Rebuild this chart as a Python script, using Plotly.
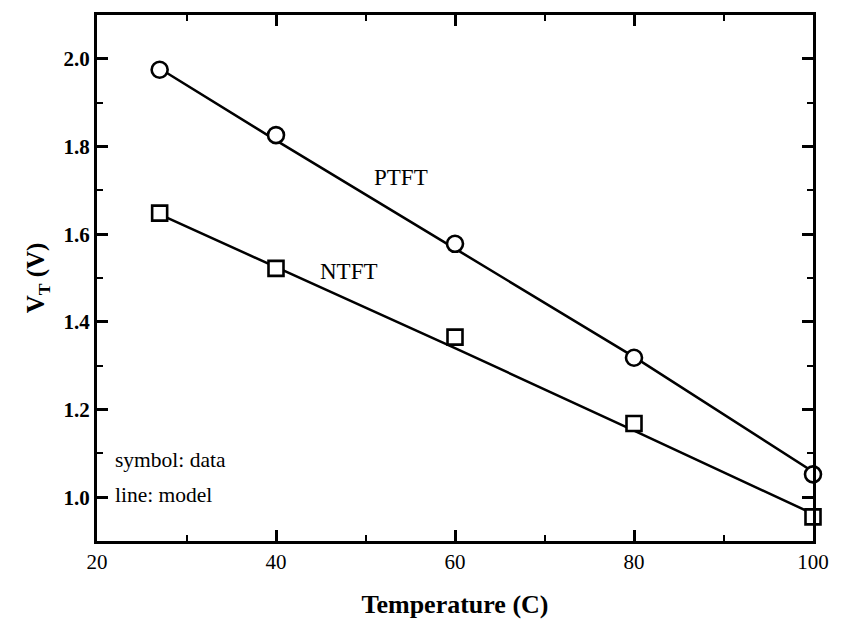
import plotly.graph_objects as go

# Temperature points (C)
temperature = [27, 40, 60, 80, 100]

# Measured threshold voltages (V)
ptft_data = [1.975, 1.826, 1.578, 1.318, 1.052]
ntft_data = [1.648, 1.522, 1.365, 1.168, 0.955]

# Model curves (V)
ptft_model = [1.978, 1.814, 1.567, 1.320, 1.058]
ntft_model = [1.645, 1.525, 1.340, 1.152, 0.962]

x_ticks = [20, 40, 60, 80, 100]
y_ticks = [1.0, 1.2, 1.4, 1.6, 1.8, 2.0]

SERIF = "Liberation Serif, Times New Roman, serif"
BLACK = "#000000"

fig = go.Figure()

for model in (ptft_model, ntft_model):
    fig.add_trace(go.Scatter(
        x=temperature, y=model, mode="lines",
        line=dict(color=BLACK, width=2.5),
        showlegend=False, hoverinfo="skip",
    ))

fig.add_trace(go.Scatter(
    x=temperature, y=ptft_data, mode="markers", name="PTFT",
    marker=dict(symbol="circle", size=16, color="white",
                line=dict(color=BLACK, width=2.6)),
    cliponaxis=False, showlegend=False,
))
fig.add_trace(go.Scatter(
    x=temperature, y=ntft_data, mode="markers", name="NTFT",
    marker=dict(symbol="square", size=15, color="white",
                line=dict(color=BLACK, width=2.6)),
    cliponaxis=False, showlegend=False,
))

axis_common = dict(
    showline=True, linecolor=BLACK, linewidth=3, mirror="allticks",
    ticks="inside", ticklen=11, tickwidth=2.5, tickcolor=BLACK,
    showgrid=False, zeroline=False,
    tickfont=dict(family=SERIF, size=21, color=BLACK),
)

fig.update_xaxes(
    range=[20, 100], tickvals=x_ticks, ticktext=[str(v) for v in x_ticks],
    minor=dict(dtick=10, ticks="inside", ticklen=6, tickwidth=2, tickcolor=BLACK),
    title=dict(text="<b>Temperature (C)</b>", standoff=22,
               font=dict(family=SERIF, size=26, color=BLACK)),
    **axis_common,
)
fig.update_yaxes(
    range=[0.9, 2.1], tickvals=y_ticks,
    ticktext=[f"<b>{v:.1f}</b>" for v in y_ticks],
    minor=dict(dtick=0.1, ticks="inside", ticklen=6, tickwidth=2, tickcolor=BLACK),
    title=dict(text="<b>V<sub>T</sub> (V)</b>", standoff=12,
               font=dict(family=SERIF, size=25, color=BLACK)),
    **axis_common,
)

notes = [
    ("PTFT", 54.0, 1.730, "center", 23),
    ("NTFT", 48.2, 1.515, "center", 23),
    ("symbol: data", 21.8, 1.085, "left", 21.5),
    ("line: model", 21.8, 1.004, "left", 21.5),
]
for text, x, y, anchor, size in notes:
    fig.add_annotation(
        x=x, y=y, text=text, showarrow=False, xanchor=anchor, yanchor="middle",
        font=dict(family=SERIF, size=size, color=BLACK),
    )

fig.update_layout(
    width=841, height=626,
    margin=dict(l=97, r=19, t=15, b=78),
    paper_bgcolor="white", plot_bgcolor="white",
)

fig.write_html("out.html")
